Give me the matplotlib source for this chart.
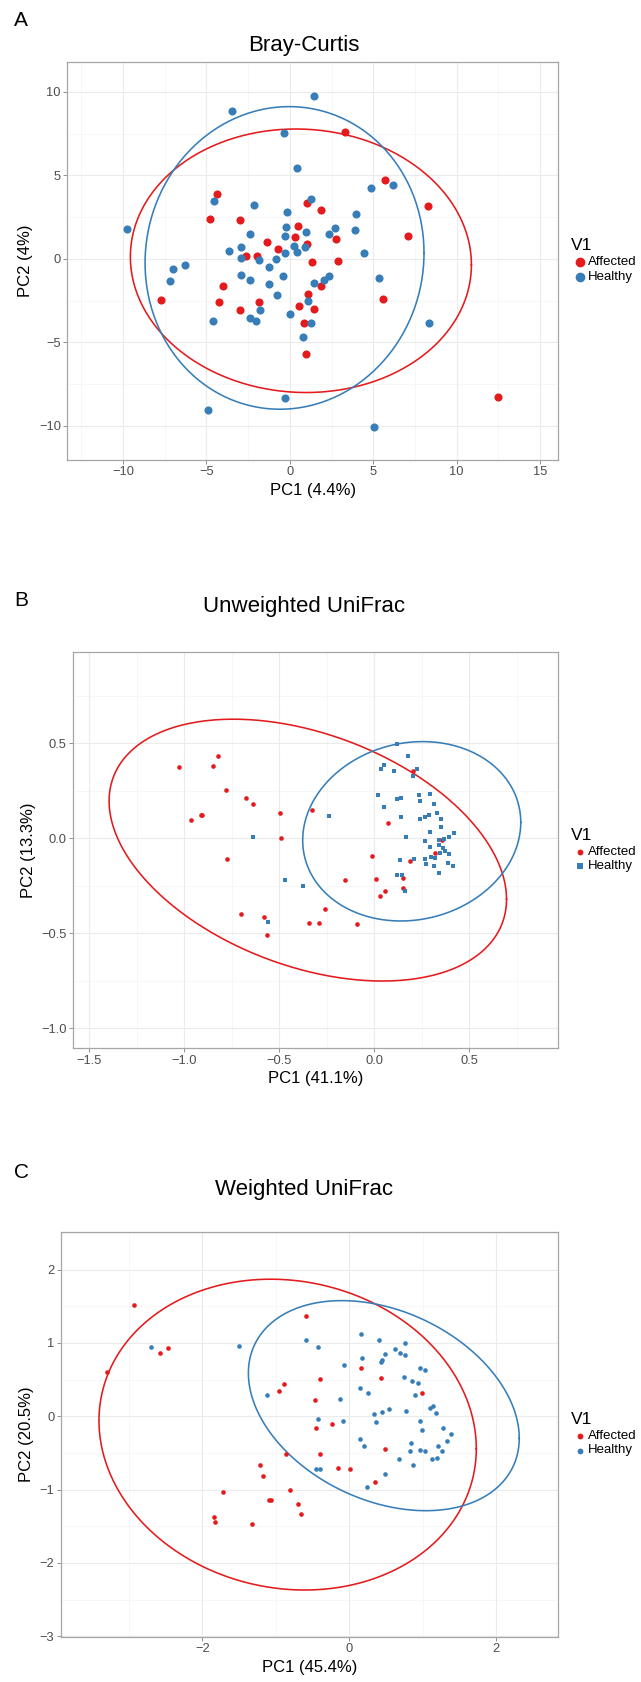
import numpy as np
import matplotlib
matplotlib.use("Agg")
import matplotlib.pyplot as plt
from matplotlib.lines import Line2D

plt.rcParams['font.family'] = ['Liberation Sans', 'DejaVu Sans']

# ---------------- data ----------------
groups = ["Affected", "Healthy"]
colors = {"Affected": "#E41A1C", "Healthy": "#377EB8"}

# Panel A: Bray-Curtis
bc_aff_x = [-4.35, -4.79, -2.97, 1.02, 1.84, 0.46, 0.32, 2.78, -1.40, 3.33, 5.71, 8.29, 7.09, -7.71,
            -2.61, -1.98, -0.74, -4.03, -4.27, -2.97, -1.86, 1.04, 1.34, 1.86, 2.87, 1.10, 0.52, 1.42,
            0.82, 0.96, 5.59, 12.48]
bc_aff_y = [3.89, 2.41, 2.34, 3.33, 2.92, 1.98, 1.34, 1.20, 1.00, 7.59, 4.75, 3.15, 1.40, -2.44,
            0.20, 0.20, 0.60, -1.62, -2.60, -3.07, -2.55, 0.88, -0.18, -1.62, -0.14, -2.12, -2.79, -2.97,
            -3.83, -5.71, -2.40, -8.28]
bc_hea_x = [-9.74, -3.49, 1.46, -0.38, 0.42, -4.57, -2.16, -0.20, 1.24, -0.22, -0.28, 0.96, -2.40, 2.32,
            2.72, 6.19, 4.89, 3.99, 3.89, -7.01, -7.17, -6.27, -3.63, -2.93, -2.91, -1.88, -0.84, -0.32,
            -1.28, -2.95, -2.41, -0.40, -1.28, -0.78, -4.61, -2.41, -2.02, -1.81, 0.00, 0.22, 0.40, 0.90,
            1.42, 2.04, 2.32, 1.06, 1.28, 0.78, -0.30, -4.93, 4.43, 5.37, 8.32, 5.07]
bc_hea_y = [1.80, 8.86, 9.76, 7.54, 5.43, 3.47, 3.25, 2.81, 3.59, 1.92, 1.38, 1.62, 1.48, 1.50,
            1.84, 4.43, 4.23, 2.71, 1.72, -0.58, -1.30, -0.36, 0.50, 0.74, 0.04, -0.06, -0.02, 0.38,
            -0.46, -0.96, -1.26, -1.00, -1.52, -2.16, -3.73, -3.51, -3.73, -3.07, -3.31, 0.80, 0.40, 0.74,
            -1.46, -1.26, -1.02, -2.51, -3.85, -4.67, -8.31, -9.06, 0.36, -1.16, -3.83, -10.04]

# Panel B: Unweighted UniFrac
uu_aff_x = [-1.030, -0.824, -0.847, -0.782, -0.677, -0.640, -0.963, -0.914, -0.905, -0.498, -0.330,
            -0.493, -0.777, 0.205, 0.072, 0.355, 0.318, 0.190, -0.011, 0.149, 0.011, -0.154, 0.150,
            0.058, 0.028, -0.700, -0.580, -0.565, -0.343, -0.291, -0.259, -0.090]
uu_aff_y = [0.374, 0.433, 0.381, 0.253, 0.210, 0.179, 0.095, 0.121, 0.121, 0.132, 0.147,
            0.000, -0.107, 0.354, 0.082, -0.009, -0.079, -0.121, -0.091, -0.207, -0.212, -0.219, -0.260,
            -0.279, -0.305, -0.397, -0.416, -0.511, -0.444, -0.444, -0.374, -0.451]
uu_hea_x = [0.121, 0.179, 0.225, 0.204, 0.051, 0.034, 0.105, 0.019, 0.121, 0.139, 0.237, 0.293, 0.239,
            0.313, 0.053, -0.238, -0.637, 0.139, 0.239, 0.267, 0.290, 0.332, 0.353, 0.351, 0.291, 0.418,
            0.393, 0.368, 0.339, 0.167, 0.268, 0.293, 0.342, 0.363, 0.391, 0.374, 0.346, 0.298, 0.268,
            0.321, 0.272, 0.313, 0.386, 0.413, 0.342, 0.207, 0.135, 0.121, 0.147, -0.469, -0.373, 0.161,
            -0.561]
uu_hea_y = [0.496, 0.433, 0.363, 0.326, 0.386, 0.365, 0.354, 0.228, 0.205, 0.212, 0.228, 0.233, 0.198,
            0.179, 0.163, 0.117, 0.008, 0.114, 0.102, 0.111, 0.123, 0.132, 0.103, 0.058, 0.032, 0.030,
            0.008, -0.004, -0.009, 0.008, -0.013, -0.047, -0.035, -0.053, -0.081, -0.067, -0.076, -0.100,
            -0.111, -0.104, -0.135, -0.144, -0.128, -0.146, -0.181, -0.107, -0.114, -0.193, -0.193, -0.219,
            -0.249, -0.277, -0.439]

# Panel C: Weighted UniFrac
wu_aff_x = [-2.937, -2.584, -2.466, -3.297, -0.590, -0.885, -0.953, -0.862, 0.163, 0.432, -0.395, 0.986,
            -0.467, -0.450, -0.240, 0.490, -0.403, -0.154, 0.006, 0.346, -1.223, -1.178, -0.811, -1.718,
            -1.090, -1.060, -0.694, -0.656, -1.839, -1.828, -1.322]
wu_aff_y = [1.518, 0.868, 0.928, 0.600, 1.372, 0.441, 0.341, -0.514, 0.655, 0.518, 0.509, 0.314,
            0.222, -0.160, -0.101, -0.442, -0.510, -0.700, -0.714, -0.900, -0.668, -0.819, -1.000, -1.032,
            -1.137, -1.137, -1.190, -1.328, -1.369, -1.437, -1.469]
wu_hea_x = [-2.706, -1.507, -0.590, -0.422, -1.121, 0.159, 0.400, 0.627, 0.763, 0.695, 0.763, 0.482,
            0.173, 0.446, 0.436, -0.072, 0.963, 1.027, 0.749, 0.858, 0.932, 0.142, 0.255, 0.895, -0.127,
            1.136, 1.099, 1.181, 0.768, 0.541, 0.441, 0.341, 0.360, -0.426, -0.090, 0.959, 0.995, 1.281,
            1.381, 1.327, 1.208, 0.841, 0.831, 0.963, 1.035, 1.267, 0.150, 0.200, 0.681, 1.131, 1.190,
            0.873, -0.450, -0.400, 0.480, 0.240]
wu_hea_y = [0.941, 0.963, 1.041, 0.941, 0.286, 1.123, 1.041, 0.923, 0.996, 0.859, 0.841, 0.850,
            0.791, 0.768, 0.745, 0.700, 0.663, 0.632, 0.532, 0.482, 0.450, 0.390, 0.318, 0.291, 0.240,
            0.141, 0.113, 0.050, 0.068, 0.095, 0.063, 0.031, -0.078, -0.037, -0.064, -0.064, -0.187, -0.155,
            -0.241, -0.341, -0.401, -0.360, -0.477, -0.460, -0.469, -0.469, -0.310, -0.405, -0.578, -0.578,
            -0.570, -0.668, -0.720, -0.720, -0.787, -0.969]

# 95% ellipses: centre x, centre y, half extent x, half extent y, correlation
bc_ell = {"Affected": (0.66, -0.11, 10.22, 7.89, -0.03), "Healthy": (-0.32, 0.06, 8.36, 9.06, 0.033)}
uu_ell = {"Affected": (-0.35, -0.062, 1.046, 0.689, -0.375), "Healthy": (0.197, 0.037, 0.574, 0.472, 0.10)}
wu_ell = {"Affected": (-0.84, -0.25, 2.57, 2.12, -0.09), "Healthy": (0.47, 0.145, 1.845, 1.433, -0.31)}

titles = ["Bray-Curtis", "Unweighted UniFrac", "Weighted UniFrac"]
panel_letters = ["A", "B", "C"]
xlabels = ["PC1 (4.4%)", "PC1 (41.1%)", "PC1 (45.4%)"]
ylabels = ["PC2 (4%)", "PC2 (13.3%)", "PC2 (20.5%)"]
xticks = [[-10, -5, 0, 5, 10, 15], [-1.5, -1.0, -0.5, 0.0, 0.5], [-2, 0, 2]]
yticks = [[-10, -5, 0, 5, 10], [-1.0, -0.5, 0.0, 0.5], [-3, -2, -1, 0, 1, 2]]
xtick_labels = [["\u221210", "\u22125", "0", "5", "10", "15"],
                ["\u22121.5", "\u22121.0", "\u22120.5", "0.0", "0.5"],
                ["\u22122", "0", "2"]]
ytick_labels = [["\u221210", "\u22125", "0", "5", "10"],
                ["\u22121.0", "\u22120.5", "0.0", "0.5"],
                ["\u22123", "\u22122", "\u22121", "0", "1", "2"]]

# ---------------- layout (pixels) ----------------
W, H = 641, 1682
fig = plt.figure(figsize=(W / 100, H / 100), dpi=100)

panels = [
    dict(box=(67.3, 61.7, 558.0, 460.0), xlim=(-13.34, 16.07), ylim=(-12.04, 11.81),
         data=((bc_aff_x, bc_aff_y), (bc_hea_x, bc_hea_y)), ell=bc_ell,
         markers=("o", "o"), msize=(34, 34), lsize=(7.0, 7.0), title_y=46, letter_y=20,
         minor_x=2.5, minor_y=2.5),
    dict(box=(73.2, 652.3, 558.2, 1048.3), xlim=(-1.585, 0.968), ylim=(-1.105, 0.979),
         data=((uu_aff_x, uu_aff_y), (uu_hea_x, uu_hea_y)), ell=uu_ell,
         markers=("o", "s"), msize=(11, 9), lsize=(4.2, 4.0), title_y=606.7, letter_y=601,
         minor_x=0.25, minor_y=0.25),
    dict(box=(60.8, 1232.0, 557.8, 1637.0), xlim=(-3.93, 2.84), ylim=(-3.011, 2.514),
         data=((wu_aff_x, wu_aff_y), (wu_hea_x, wu_hea_y)), ell=wu_ell,
         markers=("o", "o"), msize=(11, 11), lsize=(4.2, 4.2), title_y=1190, letter_y=1172,
         minor_x=1.0, minor_y=0.5),
]

grid_major = "#EBEBEB"
grid_minor = "#F4F4F4"
border = "#A6A6A6"
tick_col = "#4D4D4D"

t = np.linspace(0, 2 * np.pi, 400)

for i, p in enumerate(panels):
    l, tp, r, b = p["box"]
    ax = fig.add_axes([l / W, 1 - b / H, (r - l) / W, (b - tp) / H])
    ax.set_xlim(*p["xlim"])
    ax.set_ylim(*p["ylim"])
    ax.set_facecolor("white")
    x0, x1 = p["xlim"]
    y0, y1 = p["ylim"]
    mx = np.arange(np.ceil(x0 / p["minor_x"]) * p["minor_x"], x1, p["minor_x"])
    my = np.arange(np.ceil(y0 / p["minor_y"]) * p["minor_y"], y1, p["minor_y"])
    for v in mx:
        ax.axvline(v, color=grid_minor, lw=0.5, zorder=0)
    for v in my:
        ax.axhline(v, color=grid_minor, lw=0.5, zorder=0)
    for v in xticks[i]:
        ax.axvline(v, color=grid_major, lw=0.8, zorder=0)
    for v in yticks[i]:
        ax.axhline(v, color=grid_major, lw=0.8, zorder=0)

    for g, (xs, ys), mk, ms in zip(groups, p["data"], p["markers"], p["msize"]):
        ax.scatter(xs, ys, s=ms, marker=mk, color=colors[g], linewidths=0, zorder=3)
    for g in groups:
        cx, cy, sx, sy, rho = p["ell"][g]
        ex = cx + sx * np.cos(t)
        ey = cy + sy * (rho * np.cos(t) + np.sqrt(1 - rho ** 2) * np.sin(t))
        ax.plot(ex, ey, color=colors[g], lw=1.15, zorder=2)

    ax.set_xticks(xticks[i])
    ax.set_xticklabels(xtick_labels[i])
    ax.set_yticks(yticks[i])
    ax.set_yticklabels(ytick_labels[i])
    ax.tick_params(axis="both", length=2.6, width=0.6, color="#7F7F7F", labelcolor=tick_col,
                   labelsize=9.3, pad=2)
    for s in ax.spines.values():
        s.set_color(border)
        s.set_linewidth(0.9)
    ax.set_xlabel(xlabels[i], fontsize=12, color="black", labelpad=3)
    ax.set_ylabel(ylabels[i], fontsize=12, color="black", labelpad=4)

    fig.text(304 / W, 1 - p["title_y"] / H, titles[i], ha="center", va="center", fontsize=16)
    fig.text(14 / W, 1 - p["letter_y"] / H, panel_letters[i], ha="left", va="center", fontsize=15)

    # legend
    cyp = (tp + b) / 2
    fig.text(571 / W, 1 - (cyp - 15) / H, "V1", ha="left", va="center", fontsize=12.5)
    for k, g in enumerate(groups):
        yy = cyp + 1.5 + 14.5 * k
        fig.add_artist(Line2D([580 / W], [1 - yy / H], transform=fig.transFigure,
                              marker=p["markers"][k], markersize=p["lsize"][k], linestyle="none",
                              markerfacecolor=colors[g], markeredgewidth=0))
        fig.text(588 / W, 1 - yy / H, g, ha="left", va="center", fontsize=9.5)

fig.savefig("out.png", dpi=100, facecolor="white")
